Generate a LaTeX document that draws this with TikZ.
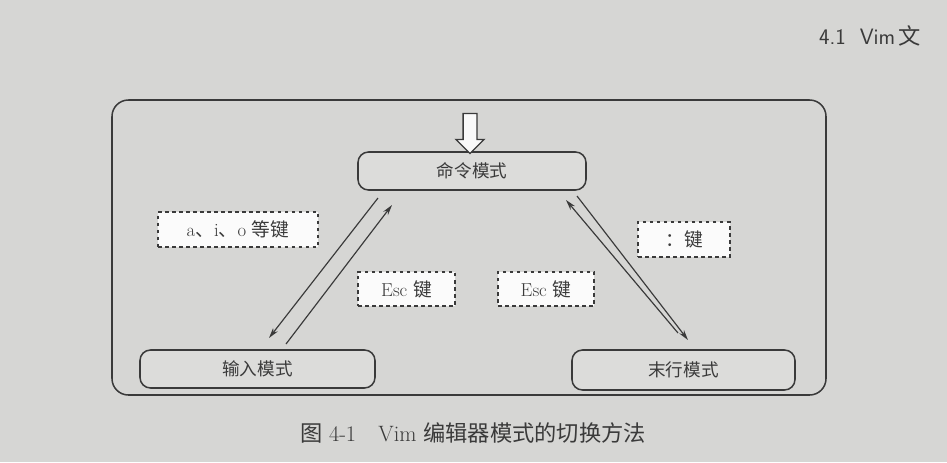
\documentclass[tikz,border=0pt]{standalone}
\usepackage{fontspec}
\newfontfamily\cjk{Noto Sans CJK SC}
\usetikzlibrary{arrows.meta,shapes.arrows}
\definecolor{bg}{HTML}{D6D6D4}
\definecolor{ink}{HTML}{3A3A3A}
\tikzset{
  modebox/.style={draw=ink,line width=1.3pt,rounded corners=9pt,fill=bg!85!white,font=\cjk\fontsize{15}{15}\selectfont,text=ink,inner sep=0pt},
  keybox/.style={draw=ink,line width=1.3pt,dashed,fill=white!90!bg,font=\fontsize{16}{16}\selectfont,text=ink,inner sep=0pt},
  conn/.style={draw=ink,line width=1pt,-{Stealth[length=9pt,width=5pt]}}
}
\begin{document}
\begin{tikzpicture}[x=0.03cm,y=-0.03cm]
\useasboundingbox[fill=bg] (0,0) rectangle (947,462);
\node[anchor=west,font=\fontsize{19}{19}\selectfont\sffamily,text=ink] (hdr) at (815,36) {4.1\ \ Vim\,{\cjk 文}};
\node[draw=ink,line width=1.3pt,rounded corners=14pt,minimum width=714*0.03cm,minimum height=295*0.03cm] (outer) at (469,247.5) {};
\node[modebox,minimum width=228*0.03cm,minimum height=38*0.03cm] (cmd) at (472,171) {命令模式};
\node[modebox,minimum width=235*0.03cm,minimum height=38*0.03cm] (inp) at (257.5,369) {输入模式};
\node[modebox,minimum width=223*0.03cm,minimum height=40*0.03cm] (last) at (683.5,370) {末行模式};
\node[single arrow,draw=ink,line width=1.1pt,fill=white!85!bg,shape border rotate=270,minimum height=40*0.03cm,minimum width=28*0.03cm,single arrow head extend=4pt] (top) at (470,130) {};
\node[keybox,minimum width=160*0.03cm,minimum height=35*0.03cm] (k1) at (238,229.5) {a{\cjk 、}i{\cjk 、}o {\cjk 等键}};
\node[keybox,minimum width=97*0.03cm,minimum height=34*0.03cm] (k2) at (406.5,289) {Esc {\cjk 键}};
\node[keybox,minimum width=96*0.03cm,minimum height=34*0.03cm] (k3) at (546,289) {Esc {\cjk 键}};
\node[keybox,minimum width=92*0.03cm,minimum height=35*0.03cm] (k4) at (684,239.5) {\cjk ：键};
\coordinate (a1) at (286,344); \coordinate (a2) at (392,205);
\coordinate (b1) at (378,198); \coordinate (b2) at (269,338);
\coordinate (c1) at (678,333); \coordinate (c2) at (566,200);
\coordinate (d1) at (577,196); \coordinate (d2) at (688,340);
\draw[conn] (a1) -- (a2);
\draw[conn] (b1) -- (b2);
\draw[conn] (c1) -- (c2);
\draw[conn] (d1) -- (d2);
\node[font=\fontsize{19}{19}\selectfont,text=ink] (cap) at (473,433) {{\cjk 图} 4-1\quad Vim {\cjk 编辑器模式的切换方法}};
\end{tikzpicture}
\end{document}
